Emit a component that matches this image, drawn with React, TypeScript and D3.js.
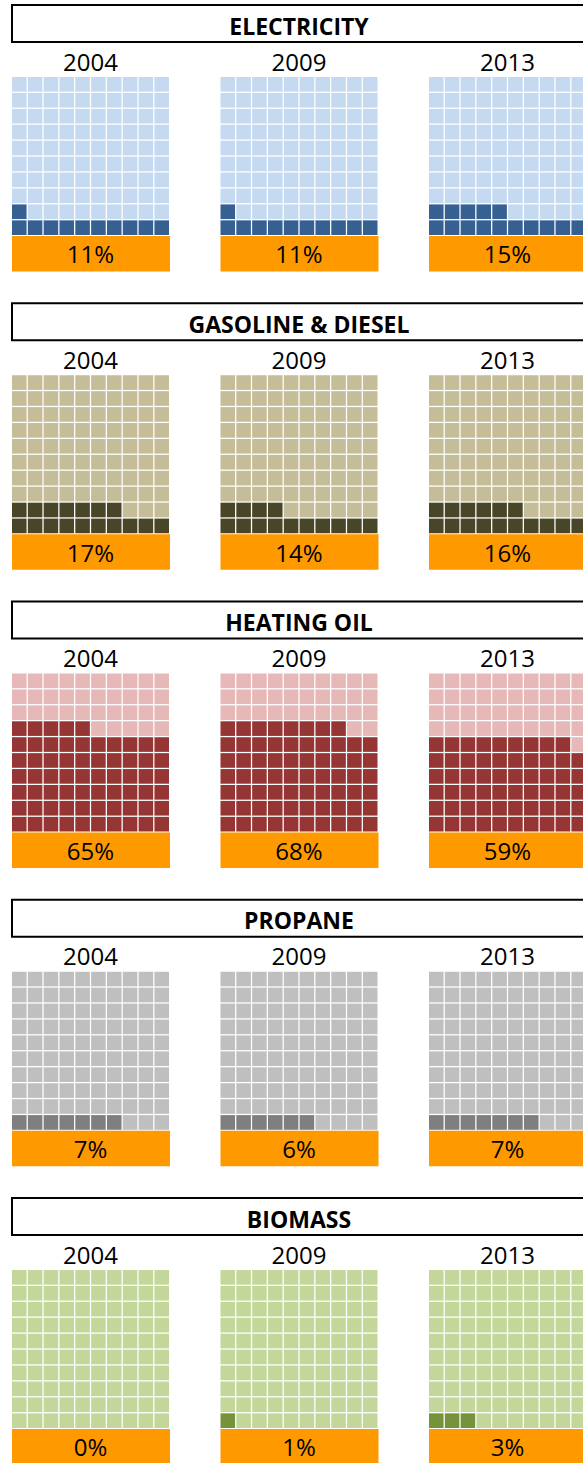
import { useEffect, useRef } from 'react';
import * as d3 from 'd3';

// fuel share of home heating, percent of households
const fuels = ['ELECTRICITY', 'GASOLINE & DIESEL', 'HEATING OIL', 'PROPANE', 'BIOMASS'];
const years = ['2004', '2009', '2013'];

const electricity = [11, 11, 15];
const gasolineDiesel = [17, 14, 16];
const heatingOil = [65, 68, 59];
const propane = [7, 6, 7];
const biomass = [0, 1, 3];

const shares = [electricity, gasolineDiesel, heatingOil, propane, biomass];

const lightColors = ['#c5d9f1', '#c4bd97', '#e6b8b7', '#bfbfbf', '#c4d79b'];
const darkColors = ['#366092', '#494529', '#963634', '#7f7f7f', '#76933c'];

const WIDTH = 583;
const HEIGHT = 1463;
const FONT = '"Open Sans", "Noto Sans", sans-serif';

const App = () => {
  const svgRef = useRef<SVGSVGElement>(null);

  useEffect(() => {
    if (!svgRef.current) return;
    const svg = d3.select(svgRef.current);
    svg.selectAll('*').remove();

    const sectionY = d3
      .scaleBand<string>()
      .domain(fuels)
      .range([5, 5 + fuels.length * 298.25])
      .paddingInner(0);

    const panelX = d3
      .scaleBand<string>()
      .domain(years)
      .range([12, 586])
      .paddingInner(0.247)
      .paddingOuter(0);

    const gridW = panelX.bandwidth();
    const gridH = 158;

    const cellX = d3.scaleBand<number>().domain(d3.range(10)).range([0, gridW]).paddingInner(0.08);
    const cellY = d3.scaleBand<number>().domain(d3.range(10)).range([0, gridH]).paddingInner(0.08);

    const cells = d3.range(100);

    fuels.forEach((fuel, fi) => {
      const top = sectionY(fuel) ?? 0;
      const g = svg.append('g').attr('transform', `translate(0, ${top})`);

      // header box
      const [x0, x1] = panelX.range();
      g.append('rect')
        .attr('x', x0)
        .attr('y', 0)
        .attr('width', x1 - x0)
        .attr('height', 37)
        .attr('fill', 'none')
        .attr('stroke', '#000')
        .attr('stroke-width', 2);

      g.append('text')
        .attr('x', (x0 + x1) / 2)
        .attr('y', 29.5)
        .attr('text-anchor', 'middle')
        .attr('font-family', FONT)
        .attr('font-weight', 700)
        .attr('font-size', 23)
        .text(fuel);

      years.forEach((year, yi) => {
        const px = panelX(year) ?? 0;
        const value = shares[fi][yi];
        const panel = g.append('g').attr('transform', `translate(${px}, 0)`);

        panel
          .append('text')
          .attr('x', gridW / 2)
          .attr('y', 65.5)
          .attr('text-anchor', 'middle')
          .attr('font-family', FONT)
          .attr('font-size', 24)
          .text(year);

        const grid = panel.append('g').attr('transform', 'translate(0, 72)');

        // filled from the bottom row, left to right
        grid
          .selectAll('rect')
          .data(cells)
          .enter()
          .append('rect')
          .attr('x', (k) => cellX(k % 10) ?? 0)
          .attr('y', (k) => cellY(9 - Math.floor(k / 10)) ?? 0)
          .attr('width', cellX.bandwidth())
          .attr('height', cellY.bandwidth())
          .attr('fill', (k) => (k < value ? darkColors[fi] : lightColors[fi]));

        panel
          .append('rect')
          .attr('x', 0)
          .attr('y', 72 + gridH + 1)
          .attr('width', gridW + 1)
          .attr('height', 35.5)
          .attr('fill', '#ff9900');

        panel
          .append('text')
          .attr('x', gridW / 2)
          .attr('y', 258.3)
          .attr('text-anchor', 'middle')
          .attr('font-family', FONT)
          .attr('font-size', 24)
          .text(`${value}%`);
      });
    });
  }, []);

  return (
    <svg
      ref={svgRef}
      width={WIDTH}
      height={HEIGHT}
      style={{ position: 'absolute', left: 0, top: 0, background: '#fff' }}
    />
  );
};

export default App;
